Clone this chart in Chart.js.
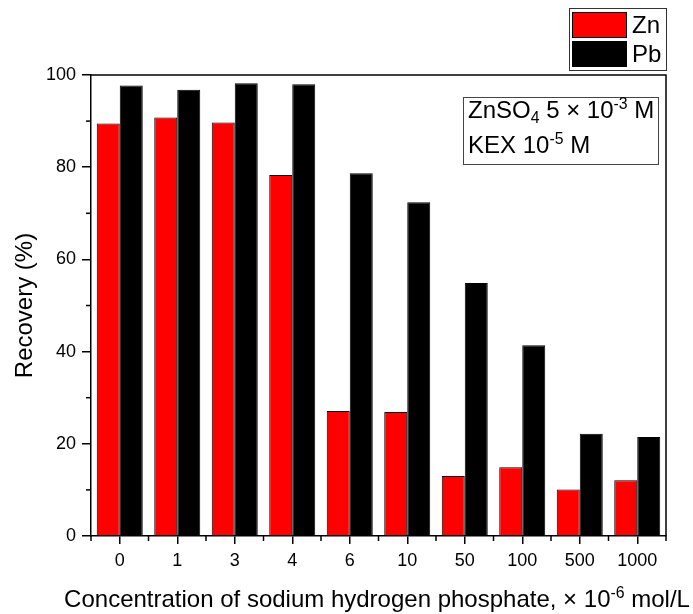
<!DOCTYPE html>
<html>
<head>
<meta charset="utf-8">
<script src="https://cdn.jsdelivr.net/npm/chart.js@4"></script>
<style>
  html, body { margin: 0; padding: 0; background: #fff; }
</style>
</head>
<body>
<canvas id="c" width="693" height="614"></canvas>
<script>
// Sodium hydrogen phosphate concentration (× 10^-6 mol/L)
const concentrations = ['0', '1', '3', '4', '6', '10', '50', '100', '500', '1000'];
// Flotation recovery, %
const znRecovery = [89.5, 90.8, 89.7, 78.3, 27.1, 26.9, 13.0, 14.9, 10.1, 12.1];
const pbRecovery = [97.7, 96.8, 98.2, 98.0, 78.7, 72.4, 54.9, 41.4, 22.2, 21.5];
const seriesNames = ['Zn', 'Pb'];
const seriesColors = ['#ff0000', '#000000'];
const yMin = 0, yMax = 100, yStep = 20, yMinorStep = 10;

const FONT = '"Liberation Sans", Arial, Helvetica, sans-serif';
const TEXT_SIZE = 24;

// Draws a run of text pieces; pieces may be subscript or superscript.
function drawRich(ctx, parts, x, y, size, align) {
  const widths = parts.map(p => {
    const s = p.sub || p.sup ? size * 0.66 : size;
    ctx.font = s + 'px ' + FONT;
    return ctx.measureText(p.t).width;
  });
  const total = widths.reduce((a, b) => a + b, 0);
  let cx = align === 'center' ? x - total / 2 : x;
  ctx.textAlign = 'left';
  ctx.textBaseline = 'alphabetic';
  parts.forEach((p, i) => {
    const s = p.sub || p.sup ? size * 0.66 : size;
    ctx.font = s + 'px ' + FONT;
    const dy = p.sub ? size * 0.22 : (p.sup ? -size * 0.38 : 0);
    ctx.fillText(p.t, cx, y + dy);
    cx += widths[i];
  });
}

const decorations = {
  id: 'decorations',
  afterDraw(chart) {
    const ctx = chart.ctx;
    const a = chart.chartArea;
    const xs = chart.scales.x, ys = chart.scales.y;
    ctx.save();
    ctx.strokeStyle = '#000';
    ctx.fillStyle = '#000';

    // frame: top and right edges
    ctx.lineWidth = 1.5;
    ctx.beginPath();
    ctx.moveTo(a.left, a.top);
    ctx.lineTo(a.right, a.top);
    ctx.lineTo(a.right, a.bottom);
    ctx.stroke();

    // minor ticks on the value axis
    for (let v = yMin + yMinorStep; v < yMax; v += yStep) {
      const py = ys.getPixelForValue(v);
      ctx.beginPath();
      ctx.moveTo(a.left - 5, py);
      ctx.lineTo(a.left, py);
      ctx.stroke();
    }
    // minor ticks between categories
    const n = concentrations.length;
    const bounds = [a.left, a.right];
    for (let i = 0; i < n - 1; i++) {
      bounds.push((xs.getPixelForValue(i) + xs.getPixelForValue(i + 1)) / 2);
    }
    bounds.forEach(px => {
      ctx.beginPath();
      ctx.moveTo(px, a.bottom);
      ctx.lineTo(px, a.bottom + 5);
      ctx.stroke();
    });

    // axis titles
    ctx.save();
    ctx.translate(25, (a.top + a.bottom) / 2);
    ctx.rotate(-Math.PI / 2);
    ctx.font = TEXT_SIZE + 'px ' + FONT;
    ctx.textAlign = 'center';
    ctx.textBaseline = 'middle';
    ctx.fillText('Recovery (%)', 0, 0);
    ctx.restore();

    drawRich(ctx, [
      { t: 'Concentration of sodium hydrogen phosphate, × 10' },
      { t: '-6', sup: true },
      { t: ' mol/L' }
    ], 377, 607, TEXT_SIZE, 'center');

    // legend
    ctx.lineWidth = 1;
    ctx.strokeStyle = '#333';
    ctx.strokeRect(569.5, 8.5, 97, 62);
    chart.data.datasets.forEach((ds, i) => {
      const top = 12 + i * 29;
      ctx.fillStyle = ds.backgroundColor;
      ctx.fillRect(572, top, 55, 26);
      ctx.strokeStyle = '#000';
      ctx.strokeRect(572.5, top + 0.5, 54, 25);
      ctx.fillStyle = '#000';
      ctx.font = TEXT_SIZE + 'px ' + FONT;
      ctx.textAlign = 'left';
      ctx.textBaseline = 'alphabetic';
      ctx.fillText(ds.label, 632, top + 21);
    });

    // conditions box
    ctx.strokeStyle = '#444';
    ctx.lineWidth = 1;
    ctx.strokeRect(463.5, 97.5, 195, 67);
    ctx.fillStyle = '#000';
    drawRich(ctx, [
      { t: 'ZnSO' }, { t: '4', sub: true }, { t: ' 5 × 10' }, { t: '-3', sup: true }, { t: ' M' }
    ], 468, 118, TEXT_SIZE, 'left');
    drawRich(ctx, [
      { t: 'KEX 10' }, { t: '-5', sup: true }, { t: ' M' }
    ], 468, 153, TEXT_SIZE, 'left');

    ctx.restore();
  }
};

new Chart(document.getElementById('c'), {
  type: 'bar',
  data: {
    labels: concentrations,
    datasets: [
      { label: seriesNames[0], data: znRecovery, backgroundColor: seriesColors[0], borderColor: '#000', borderWidth: 1 },
      { label: seriesNames[1], data: pbRecovery, backgroundColor: seriesColors[1], borderColor: '#000', borderWidth: 1 }
    ]
  },
  options: {
    responsive: false,
    devicePixelRatio: 1,
    animation: false,
    layout: { padding: { top: 75, right: 27, left: 0, bottom: 0 } },
    datasets: { bar: { barPercentage: 1.0, categoryPercentage: 0.8 } },
    plugins: { legend: { display: false }, tooltip: { enabled: false } },
    scales: {
      x: {
        type: 'category',
        offset: true,
        grid: { offset: false, drawOnChartArea: false, drawTicks: true, tickLength: 8, color: '#000', lineWidth: 1.5 },
        border: { display: true, color: '#000', width: 1.5 },
        ticks: { color: '#000', font: { family: FONT, size: 18 }, padding: 6, maxRotation: 0 },
        afterFit(s) { s.height = 78; }
      },
      y: {
        min: yMin,
        max: yMax,
        grid: { drawOnChartArea: false, drawTicks: true, tickLength: 9, color: '#000', lineWidth: 1.5 },
        border: { display: true, color: '#000', width: 1.5 },
        ticks: { stepSize: yStep, color: '#000', font: { family: FONT, size: 18 }, padding: 6 },
        afterFit(s) { s.width = 91; }
      }
    }
  },
  plugins: [decorations]
});
</script>
</body>
</html>
